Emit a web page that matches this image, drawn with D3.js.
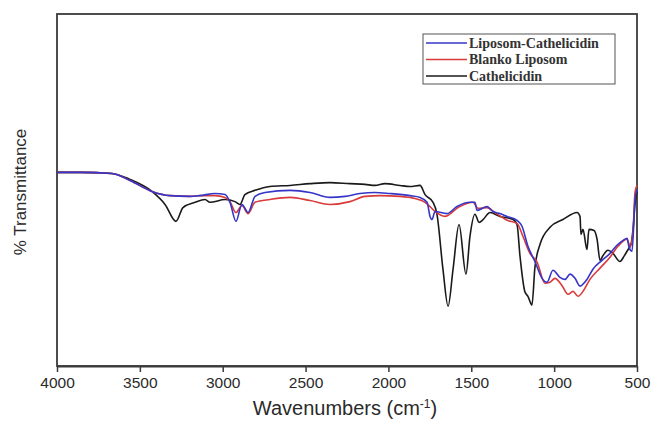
<!DOCTYPE html>
<html>
<head>
<meta charset="utf-8">
<script src="https://cdn.jsdelivr.net/npm/d3@7"></script>
<style>
  html, body { margin: 0; padding: 0; background: #fff; }
  svg { display: block; }
</style>
</head>
<body>
<svg id="chart" width="654" height="423"></svg>
<script>
// ---- data (wavenumber cm^-1, % transmittance) ----
const xTicks = [4000, 3500, 3000, 2500, 2000, 1500, 1000, 500];
const seriesNames = ["Liposom-Cathelicidin", "Blanko Liposom", "Cathelicidin"];
const seriesColors = ["#3535c8", "#d93a3a", "#1a1a1a"];

const cathelicidin = [
  [4000,55.0],[3861,55.0],[3668,54.7],[3559,53.0],[3427,49.6],[3348,45.9],[3282,41.1],
  [3240,45.0],[3167,46.5],[3107,47.3],[3077,46.5],[2986,47.3],[2926,46.7],[2896,45.9],
  [2866,48.7],[2805,49.9],[2715,51.0],[2594,51.3],[2473,51.8],[2353,52.1],[2232,51.8],
  [2141,51.6],[2081,51.3],[2021,51.8],[1930,51.3],[1870,51.0],[1809,51.3],[1779,48.7],
  [1731,46.5],[1707,43.1],[1671,27.5],[1640,17.0],[1610,27.5],[1574,40.2],[1532,26.1],
  [1508,36.8],[1478,43.1],[1453,40.8],[1429,41.6],[1387,43.6],[1327,42.5],[1248,41.6],
  [1224,40.2],[1206,31.2],[1176,21.0],[1158,19.8],[1134,17.3],[1116,28.0],[1085,34.6],
  [1025,39.4],[947,41.6],[862,43.6],[844,42.5],[838,37.4],[826,38.8],[802,33.1],
  [790,38.8],[759,38.5],[741,36.0],[723,30.0],[705,31.4],[675,32.9],[645,32.0],
  [603,29.7],[578,31.2],[554,33.1],[536,34.6],[524,38.8],[512,45.9],[500,49.6]
];

const blankoLiposom = [
  [4000,55.0],[3861,55.0],[3668,54.7],[3559,52.7],[3427,49.6],[3318,48.4],[3197,48.2],
  [3137,48.4],[3047,48.4],[2986,47.9],[2956,46.7],[2920,43.6],[2884,45.6],[2847,43.3],
  [2805,46.5],[2715,47.3],[2594,47.9],[2473,47.0],[2353,45.9],[2232,46.7],[2141,48.2],
  [2051,48.4],[1930,48.2],[1840,47.6],[1779,46.5],[1749,45.3],[1719,43.9],[1659,42.5],
  [1580,45.0],[1490,46.5],[1459,44.8],[1405,45.0],[1357,43.6],[1284,41.4],[1224,40.5],
  [1188,36.8],[1146,32.0],[1103,29.5],[1055,23.5],[1025,23.8],[995,24.9],[953,22.9],
  [916,20.4],[886,21.2],[856,19.8],[826,21.2],[784,24.6],[723,27.8],[663,30.9],
  [615,34.0],[560,36.0],[542,34.0],[524,38.2],[512,49.3],[500,51.3]
];

const liposomCathelicidin = [
  [4000,55.0],[3861,55.0],[3668,54.7],[3559,52.7],[3427,49.6],[3318,48.4],[3197,48.2],
  [3137,48.4],[3047,49.0],[2986,48.7],[2956,46.5],[2920,41.1],[2884,45.9],[2847,43.6],
  [2805,48.2],[2745,49.3],[2594,49.9],[2473,49.3],[2353,47.9],[2262,48.2],[2172,49.0],
  [2081,49.3],[1991,49.0],[1870,48.4],[1809,47.9],[1767,46.5],[1749,42.5],[1737,41.6],
  [1719,43.9],[1647,43.3],[1586,45.3],[1508,46.5],[1478,46.5],[1465,44.2],[1405,45.3],
  [1369,43.9],[1327,43.3],[1284,42.5],[1224,41.4],[1194,39.7],[1158,34.0],[1116,29.7],
  [1073,24.9],[1043,23.8],[1007,27.2],[965,25.2],[934,24.6],[904,26.1],[874,24.9],
  [844,22.7],[802,24.6],[766,27.5],[711,30.0],[663,32.0],[621,34.3],[584,35.7],
  [560,36.3],[548,33.7],[530,32.6],[512,47.3],[500,50.1]
];

// ---- layout ----
const svg = d3.select("#chart");
const margin = { left: 57, right: 17, top: 14, bottom: 57 };
const W = 654, H = 423;
const x = d3.scaleLinear().domain([4000, 500]).range([margin.left, W - margin.right]);
const y = d3.scaleLinear().domain([0, 100]).range([H - margin.bottom, margin.top]);

// frame
svg.append("rect")
  .attr("x", margin.left).attr("y", margin.top)
  .attr("width", W - margin.left - margin.right)
  .attr("height", H - margin.top - margin.bottom)
  .attr("fill", "none").attr("stroke", "#3a3a3a").attr("stroke-width", 1.8);

// x axis
const xAxis = d3.axisBottom(x).tickValues(xTicks).tickSize(6).tickSizeOuter(0).tickFormat(d3.format("d"));
const gx = svg.append("g").attr("transform", `translate(0,${H - margin.bottom})`).call(xAxis);
gx.select(".domain").attr("stroke", "#3a3a3a").attr("stroke-width", 1.8);
gx.selectAll(".tick line").attr("stroke", "#3a3a3a").attr("stroke-width", 1.5);
gx.selectAll(".tick text")
  .attr("font-family", "Liberation Sans, Arial, sans-serif")
  .attr("font-size", 15.5).attr("fill", "#2a2a2a").attr("dy", "0.85em");

// axis titles
svg.append("text")
  .attr("x", (margin.left + W - margin.right) / 2 - 2).attr("y", 415)
  .attr("text-anchor", "middle")
  .attr("font-family", "Liberation Sans, Arial, sans-serif")
  .attr("font-size", 20).attr("fill", "#2a2a2a")
  .html('Wavenumbers (cm<tspan baseline-shift="super" font-size="12">-1</tspan>)');

svg.append("text")
  .attr("transform", `translate(26,192) rotate(-90)`)
  .attr("text-anchor", "middle")
  .attr("font-family", "Liberation Sans, Arial, sans-serif")
  .attr("font-size", 17).attr("fill", "#2a2a2a")
  .text("% Transmittance");

// lines
const line = d3.line().x(d => x(d[0])).y(d => y(d[1])).curve(d3.curveMonotoneX);
const drawOrder = [
  { data: cathelicidin, color: seriesColors[2] },
  { data: blankoLiposom, color: seriesColors[1] },
  { data: liposomCathelicidin, color: seriesColors[0] }
];
svg.append("g").selectAll("path").data(drawOrder).join("path")
  .attr("d", d => line(d.data))
  .attr("fill", "none")
  .attr("stroke", d => d.color)
  .attr("stroke-width", 1.6)
  .attr("stroke-linejoin", "round");

// legend
const lg = svg.append("g").attr("transform", "translate(423,34)");
lg.append("rect").attr("width", 192).attr("height", 50)
  .attr("fill", "#fff").attr("stroke", "#555").attr("stroke-width", 1);
seriesNames.forEach((name, i) => {
  const yy = 9 + i * 16.5;
  lg.append("line").attr("x1", 3).attr("x2", 44).attr("y1", yy).attr("y2", yy)
    .attr("stroke", seriesColors[i]).attr("stroke-width", 1.6);
  lg.append("text").attr("x", 46).attr("y", yy + 4.5)
    .attr("font-family", "Liberation Serif, Times New Roman, serif")
    .attr("font-size", 14).attr("font-weight", "bold").attr("fill", "#333")
    .text(name);
});
</script>
</body>
</html>
